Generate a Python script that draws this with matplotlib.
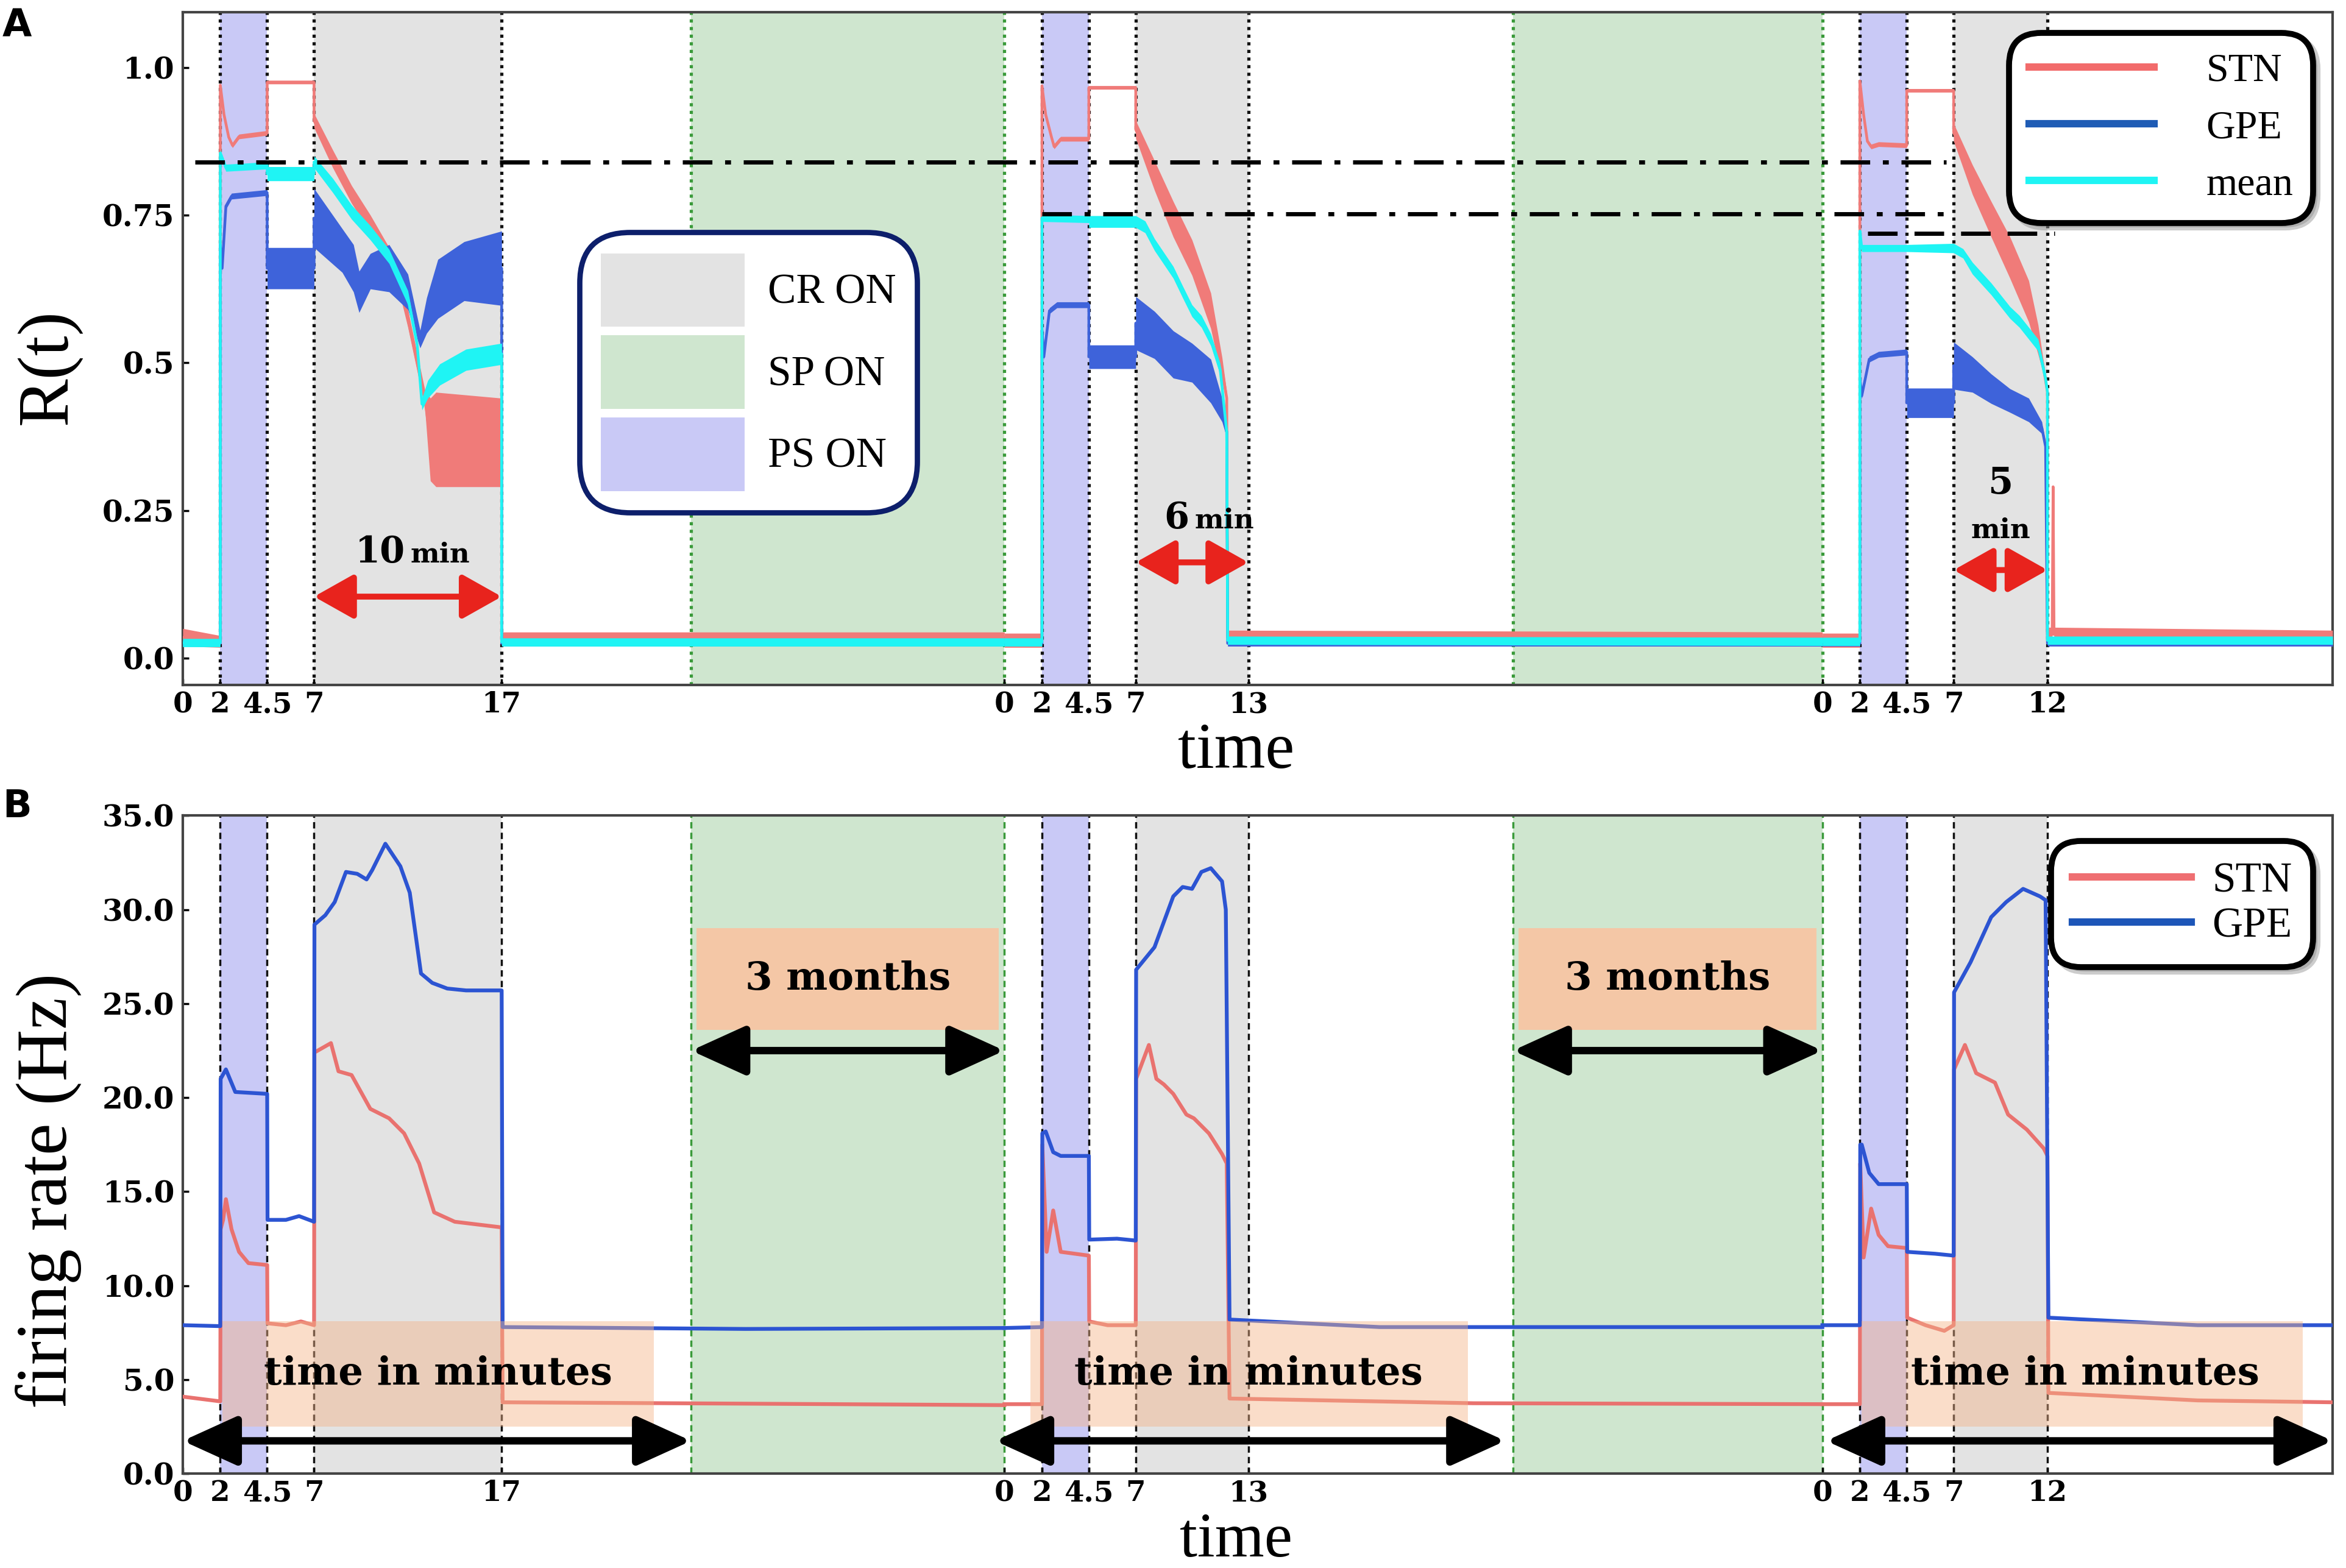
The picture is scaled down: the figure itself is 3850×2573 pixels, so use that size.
import numpy as np
import matplotlib.pyplot as plt
from matplotlib.lines import Line2D
from matplotlib.patches import Patch, Rectangle

plt.rcParams['font.family'] = ['Liberation Serif', 'DejaVu Serif']

# layout of the three sessions on one shared time axis (minutes)
seg_start = [0.0, 43.8, 87.4]
x_end = 114.6
ps_on, ps_off, cr_on = 2, 4.5, 7
cr_end = [17, 13, 12]
sp_spans = [(27.1, 43.8), (70.9, 87.4)]
tick_marks = [[0, 2, 4.5, 7, 17], [0, 2, 4.5, 7, 13], [0, 2, 4.5, 7, 12]]

# panel A: (local time, R, half width of the noisy band)
a_stn_1 = [(0, 0.035, 0.015), (2, 0.028, 0.01), (2, 0.97, 0.004), (2.2, 0.92, 0.004),
           (2.45, 0.882, 0.004), (2.65, 0.868, 0.004), (3.0, 0.883, 0.004), (4.5, 0.889, 0.004),
           (4.5, 0.975, 0.003), (7, 0.975, 0.003), (7, 0.91, 0.012), (8, 0.845, 0.015),
           (9, 0.785, 0.015), (10, 0.735, 0.015), (11, 0.68, 0.015), (11.5, 0.64, 0.015),
           (12, 0.575, 0.015), (12.5, 0.50, 0.015), (12.9, 0.44, 0.015), (13.2, 0.37, 0.07),
           (13.5, 0.37, 0.08), (17, 0.365, 0.075), (17, 0.032, 0.012), (43.8, 0.032, 0.012)]
a_gpe_1 = [(0, 0.025, 0.005), (2, 0.025, 0.005), (2, 0.70, 0.005), (2.1, 0.66, 0.005),
           (2.3, 0.765, 0.005), (2.6, 0.782, 0.005), (4.5, 0.788, 0.005), (4.5, 0.66, 0.035),
           (7, 0.66, 0.035), (7, 0.745, 0.05), (8.5, 0.69, 0.037), (9.1, 0.66, 0.04),
           (9.4, 0.62, 0.035), (10, 0.655, 0.03), (11, 0.66, 0.04), (12, 0.62, 0.03),
           (12.65, 0.54, 0.015), (13, 0.58, 0.03), (13.6, 0.625, 0.05), (15, 0.655, 0.05),
           (17, 0.66, 0.063), (17, 0.025, 0.005), (43.8, 0.025, 0.005)]
a_mean_1 = [(0, 0.026, 0.007), (2, 0.026, 0.007), (2, 0.855, 0.006), (2.3, 0.83, 0.006),
            (4.5, 0.834, 0.006), (4.5, 0.82, 0.012), (7, 0.82, 0.012), (7, 0.84, 0.01),
            (8, 0.80, 0.012), (9, 0.755, 0.012), (10, 0.72, 0.012), (11, 0.68, 0.012),
            (12, 0.61, 0.012), (12.5, 0.53, 0.01), (12.75, 0.43, 0.01), (13.06, 0.455, 0.015),
            (13.7, 0.48, 0.018), (15.1, 0.505, 0.018), (17, 0.515, 0.018), (17, 0.027, 0.007),
            (43.8, 0.027, 0.007)]

a_stn_2 = [(0, 0.03, 0.012), (2, 0.03, 0.012), (2, 0.969, 0.004), (2.2, 0.92, 0.004),
           (2.5, 0.883, 0.004), (2.65, 0.866, 0.004), (3.0, 0.879, 0.004), (4.5, 0.879, 0.004),
           (4.5, 0.966, 0.003), (7, 0.966, 0.003), (7, 0.895, 0.015), (8, 0.817, 0.025),
           (9, 0.743, 0.03), (10, 0.678, 0.03), (11, 0.588, 0.03), (11.6, 0.489, 0.02),
           (11.85, 0.44, 0.01), (11.9, 0.035, 0.012), (43.6, 0.032, 0.012)]
a_gpe_2 = [(0, 0.025, 0.005), (2, 0.025, 0.005), (2, 0.555, 0.005), (2.1, 0.51, 0.005),
           (2.4, 0.588, 0.005), (2.8, 0.598, 0.005), (4.5, 0.598, 0.005), (4.5, 0.51, 0.02),
           (7, 0.51, 0.02), (7, 0.567, 0.045), (8, 0.547, 0.04), (9, 0.514, 0.04),
           (10, 0.50, 0.033), (11, 0.469, 0.037), (11.6, 0.42, 0.02), (11.85, 0.383, 0.01),
           (11.9, 0.025, 0.005), (43.6, 0.025, 0.005)]
a_mean_2 = [(0, 0.027, 0.007), (2, 0.027, 0.007), (2, 0.745, 0.006), (4.5, 0.743, 0.006),
            (4.5, 0.739, 0.01), (7, 0.739, 0.01), (7.5, 0.73, 0.01), (8, 0.70, 0.01),
            (9, 0.653, 0.01), (9.5, 0.62, 0.01), (10, 0.588, 0.01), (10.5, 0.57, 0.01),
            (11, 0.539, 0.01), (11.5, 0.489, 0.01), (11.85, 0.383, 0.008), (11.9, 0.03, 0.007),
            (43.6, 0.028, 0.007)]

a_stn_3 = [(0, 0.03, 0.012), (2, 0.03, 0.012), (2, 0.977, 0.004), (2.2, 0.92, 0.004),
           (2.4, 0.875, 0.004), (2.6, 0.866, 0.004), (3.0, 0.87, 0.004), (4.5, 0.868, 0.004),
           (4.5, 0.961, 0.003), (7, 0.961, 0.003), (7, 0.89, 0.015), (8, 0.81, 0.025),
           (9, 0.743, 0.03), (10, 0.678, 0.035), (11, 0.604, 0.035), (11.5, 0.539, 0.025),
           (11.8, 0.489, 0.01), (12, 0.45, 0.008), (12, 0.04, 0.012), (12.25, 0.04, 0.012),
           (12.3, 0.29, 0.003), (12.35, 0.04, 0.012), (27.2, 0.035, 0.012)]
a_gpe_3 = [(0, 0.025, 0.005), (2, 0.025, 0.005), (2, 0.473, 0.005), (2.1, 0.444, 0.005),
           (2.5, 0.506, 0.005), (3.0, 0.514, 0.005), (4.5, 0.518, 0.005), (4.5, 0.432, 0.025),
           (7, 0.432, 0.025), (7, 0.495, 0.04), (8, 0.48, 0.03), (9, 0.456, 0.025),
           (10, 0.436, 0.02), (11, 0.42, 0.02), (11.7, 0.39, 0.01), (11.9, 0.358, 0.006),
           (12, 0.025, 0.005), (27.2, 0.025, 0.005)]
a_mean_3 = [(0, 0.028, 0.007), (2, 0.028, 0.007), (2, 0.723, 0.006), (2.1, 0.694, 0.006),
            (4.5, 0.694, 0.006), (7, 0.694, 0.008), (7.5, 0.685, 0.008), (8, 0.66, 0.01),
            (9, 0.625, 0.01), (10, 0.585, 0.01), (10.5, 0.57, 0.01), (11, 0.55, 0.01),
            (11.5, 0.53, 0.01), (11.9, 0.473, 0.01), (12, 0.45, 0.008), (12, 0.03, 0.007),
            (27.2, 0.03, 0.007)]

# reference levels in panel A: (R, from, to)
ref_levels = [(0.84, 0.64, 94.0), (0.752, 45.8, 94.3)]
ref_level_last = (0.719, 89.8, 99.8)
cr_arrow_y = [0.104, 0.162, 0.149]
cr_minutes = ['10', '6', '5']

# panel B: (local time, firing rate in Hz)
b_gpe_1 = [(0, 7.9), (2, 7.85), (2.02, 21.0), (2.3, 21.5), (2.8, 20.3), (4.5, 20.2),
           (4.52, 13.5), (5.5, 13.5), (6.2, 13.7), (7, 13.4), (7.02, 29.2), (7.6, 29.7),
           (8.1, 30.4), (8.7, 32.0), (9.3, 31.9), (9.8, 31.6), (10.1, 32.1), (10.8, 33.5),
           (11.6, 32.3), (12.1, 30.9), (12.7, 26.6), (13.3, 26.1), (14.1, 25.8), (15.1, 25.7),
           (17, 25.7), (17.05, 7.8), (30, 7.7), (43.8, 7.75)]
b_stn_1 = [(0, 4.1), (2, 3.85), (2.02, 13.0), (2.15, 13.5), (2.3, 14.6), (2.6, 13.0),
           (3.0, 11.8), (3.5, 11.2), (4.5, 11.1), (4.52, 8.0), (5.5, 7.9), (6.3, 8.1),
           (7, 7.9), (7.02, 22.4), (7.9, 22.9), (8.3, 21.4), (9.0, 21.2), (10.0, 19.4),
           (11.0, 18.9), (11.8, 18.1), (12.6, 16.5), (13.4, 13.9), (14.5, 13.4), (17, 13.1),
           (17.05, 3.8), (43.8, 3.65)]
b_gpe_2 = [(0, 7.75), (2, 7.8), (2.02, 18.1), (2.2, 18.2), (2.6, 17.1), (3.0, 16.9),
           (4.5, 16.9), (4.52, 12.45), (6, 12.5), (7, 12.4), (7.02, 26.8), (8.0, 28.0),
           (9.0, 30.7), (9.5, 31.2), (10.0, 31.1), (10.5, 32.0), (11.0, 32.2), (11.6, 31.5),
           (11.8, 30.0), (12.0, 8.2), (20, 7.8), (43.6, 7.8)]
b_stn_2 = [(0, 3.7), (2, 3.7), (2.02, 17.5), (2.25, 11.8), (2.6, 14.0), (3.0, 11.8),
           (4.5, 11.6), (4.52, 8.1), (5.5, 7.9), (7, 7.9), (7.02, 21.0), (7.7, 22.8),
           (8.1, 21.0), (8.5, 20.7), (9.0, 20.2), (9.7, 19.1), (10.1, 18.9), (10.9, 18.1),
           (11.6, 17.0), (11.85, 16.5), (12.0, 4.0), (25, 3.75), (43.6, 3.7)]
b_gpe_3 = [(0, 7.9), (2, 7.9), (2.02, 17.5), (2.1, 17.5), (2.5, 16.0), (3.0, 15.4),
           (4.5, 15.4), (4.52, 11.8), (6, 11.7), (7, 11.6), (7.02, 25.6), (7.9, 27.2),
           (9.0, 29.6), (9.8, 30.4), (10.7, 31.1), (11.6, 30.7), (11.9, 30.5), (12.05, 8.3),
           (20, 7.9), (27.2, 7.9)]
b_stn_3 = [(0, 3.7), (2, 3.7), (2.02, 16.5), (2.2, 11.5), (2.6, 14.1), (3.0, 12.7),
           (3.5, 12.1), (4.5, 12.0), (4.52, 8.3), (5.5, 7.9), (6.5, 7.6), (7, 7.9),
           (7.02, 21.5), (7.6, 22.8), (8.2, 21.3), (9.2, 20.8), (9.9, 19.1), (10.9, 18.3),
           (11.8, 17.3), (12.0, 16.9), (12.05, 4.3), (20, 3.9), (27.2, 3.8)]

# panel B annotation extents
minutes_box_x = [(2.1, 25.1), (45.2, 68.5), (89.5, 113.0)]
minutes_box_y = (2.5, 8.1)
minutes_text_x = [13.6, 56.8, 101.4]
minutes_arrow_x = [(0.0, 27.1), (43.3, 70.5), (87.6, 114.6)]
minutes_arrow_y = 1.75
months_box_y = (23.6, 29.0)
months_arrow_y = 22.5

c_ps, c_cr, c_sp = '#c9c9f6', '#e3e3e3', '#cfe6cf'
c_stn_a, c_gpe_a, c_mean = '#f07b79', '#3e63da', '#1ff4f4'
c_stn_b, c_gpe_b = '#e9726f', '#2c54d2'
c_peach = '#f4b489'

fig = plt.figure(figsize=(15.4, 10.292), dpi=250)
ax_a = fig.add_axes([0.0779, 0.5630, 0.9164, 0.4294])
ax_b = fig.add_axes([0.0779, 0.0601, 0.9164, 0.4198])

tick_font = dict(family='DejaVu Serif', weight='bold', size=14)
xtick_font = dict(family='DejaVu Serif', weight='bold', size=13.5)
bold_font = dict(family='DejaVu Serif', weight='bold')


def draw_background(ax, dash_black, dash_green, lw):
    for off, end in zip(seg_start, cr_end):
        ax.axvspan(off + ps_on, off + ps_off, color=c_ps, lw=0, zorder=0)
        ax.axvspan(off + cr_on, off + end, color=c_cr, lw=0, zorder=0)
        for x in (ps_on, ps_off, cr_on, end):
            ax.axvline(off + x, color='#111111', lw=lw, ls=dash_black, zorder=1)
    for x0, x1 in sp_spans:
        ax.axvspan(x0, x1, color=c_sp, lw=0, zorder=0)
        for x in (x0, x1):
            ax.axvline(x, color='#3a9a3a', lw=lw, ls=dash_green, zorder=1)
    pos, lab = [], []
    for off, marks in zip(seg_start, tick_marks):
        for m in marks:
            pos.append(off + m)
            lab.append(f'{m:g}')
    ax.set_xticks(pos)
    ax.set_xticklabels(lab, **xtick_font)
    ax.set_xlim(0, x_end)
    for s in ax.spines.values():
        s.set_color('#444444')
        s.set_linewidth(1.2)
    ax.tick_params(length=3, width=1, direction='in', pad=4)
    ax.tick_params(axis='x', pad=2.5)


# ---------- panel A ----------
draw_background(ax_a, (0, (1, 1.4)), (0, (1, 1.4)), 1.5)
for segs, color in [((a_stn_1, a_stn_2, a_stn_3), c_stn_a),
                    ((a_gpe_1, a_gpe_2, a_gpe_3), c_gpe_a),
                    ((a_mean_1, a_mean_2, a_mean_3), c_mean)]:
    for off, seg in zip(seg_start, segs):
        arr = np.array(seg)
        t = arr[:, 0] + off
        ax_a.fill_between(t, arr[:, 1] - arr[:, 2], arr[:, 1] + arr[:, 2],
                          color=color, lw=0, zorder=3)
        ax_a.plot(t, arr[:, 1], color=color, lw=1.3, zorder=3)

for y, x0, x1 in ref_levels:
    ax_a.plot([x0, x1], [y, y], color='black', lw=2, dashes=(7, 3, 1.4, 3), zorder=4)
ax_a.plot([ref_level_last[1], ref_level_last[2]], [ref_level_last[0]] * 2,
          color='black', lw=2, dashes=(7, 4), zorder=4)

for off, end, y, mins in zip(seg_start, cr_end, cr_arrow_y, cr_minutes):
    ax_a.annotate('', xy=(off + end, y), xytext=(off + cr_on, y),
                  arrowprops=dict(arrowstyle='<|-|>,head_length=0.8,head_width=0.45',
                                  color='#e8231d', lw=2.8, shrinkA=0, shrinkB=0,
                                  mutation_scale=20), zorder=5)
    mid = off + (cr_on + end) / 2
    if mins == '5':
        ax_a.text(mid, 0.278, mins, ha='center', va='baseline', size=17, zorder=5, **bold_font)
        ax_a.text(mid, 0.203, 'min', ha='center', va='baseline', size=13, zorder=5, **bold_font)
    else:
        ax_a.text(mid - 0.15, y + 0.058, mins, ha='right', va='baseline', size=17, zorder=5,
                  **bold_font)
        ax_a.text(mid + 0.15, y + 0.058, 'min', ha='left', va='baseline', size=13, zorder=5,
                  **bold_font)

ax_a.set_ylim(-0.046, 1.094)
ax_a.set_yticks([0, 0.25, 0.5, 0.75, 1.0])
ax_a.set_yticklabels(['0.0', '0.25', '0.5', '0.75', '1.0'], **tick_font)
ax_a.set_ylabel('R(t)', size=34)
ax_a.yaxis.set_label_coords(-0.047, 0.473)
ax_a.set_xlabel('time', size=31, labelpad=0)
ax_a.xaxis.set_label_coords(0.49, -0.055)

leg_spans = ax_a.legend(handles=[Patch(fc=c_cr, ec='none'), Patch(fc=c_sp, ec='none'),
                                 Patch(fc=c_ps, ec='none')],
                        labels=['CR ON', 'SP ON', 'PS ON'], loc='upper left',
                        bbox_to_anchor=(0.1845, 0.673), borderaxespad=0, fontsize=20,
                        handlelength=3.4, handleheight=2.3, handletextpad=0.55,
                        labelspacing=0.2, borderpad=0.5, framealpha=1)
leg_spans.get_frame().set_edgecolor('#0d1f6b')
leg_spans.get_frame().set_linewidth(2.5)
leg_spans.get_frame().set_boxstyle('round', pad=0, rounding_size=1.2)
leg_spans.set_zorder(6)
ax_a.add_artist(leg_spans)

leg_a = ax_a.legend(handles=[Line2D([], [], color='#f26b6b', lw=3.5),
                             Line2D([], [], color='#1f5cb5', lw=3.5),
                             Line2D([], [], color=c_mean, lw=3.5)],
                    labels=['STN', 'GPE', 'mean'], loc='upper right',
                    bbox_to_anchor=(0.991, 0.969), borderaxespad=0, fontsize=19,
                    handlelength=3.1, handletextpad=1.3, labelspacing=0.5, borderpad=0.5,
                    framealpha=1, shadow={'color': '0.5', 'alpha': 0.4})
leg_a.get_frame().set_edgecolor('black')
leg_a.get_frame().set_linewidth(2.8)
leg_a.get_frame().set_boxstyle('round', pad=0, rounding_size=0.8)
leg_a.set_zorder(6)

# ---------- panel B ----------
draw_background(ax_b, (0, (3, 2)), (0, (3, 2)), 1.0)
for segs, color in [((b_stn_1, b_stn_2, b_stn_3), c_stn_b),
                    ((b_gpe_1, b_gpe_2, b_gpe_3), c_gpe_b)]:
    for off, seg in zip(seg_start, segs):
        arr = np.array(seg)
        ax_b.plot(arr[:, 0] + off, arr[:, 1], color=color, lw=1.8, zorder=3)

for (x0, x1), tx in zip(minutes_box_x, minutes_text_x):
    ax_b.add_patch(Rectangle((x0, minutes_box_y[0]), x1 - x0,
                             minutes_box_y[1] - minutes_box_y[0],
                             fc=c_peach, ec='none', alpha=0.45, zorder=4))
    ax_b.text(tx, sum(minutes_box_y) / 2, 'time in minutes', ha='center', va='center',
              size=18.5, zorder=5, **bold_font)
for x0, x1 in minutes_arrow_x:
    ax_b.annotate('', xy=(x1, minutes_arrow_y), xytext=(x0, minutes_arrow_y),
                  arrowprops=dict(arrowstyle='<|-|>,head_length=1.1,head_width=0.5',
                                  color='black', lw=3.5, shrinkA=0, shrinkB=0,
                                  mutation_scale=20), zorder=5, annotation_clip=False)
for x0, x1 in sp_spans:
    ax_b.add_patch(Rectangle((x0 + 0.3, months_box_y[0]), x1 - x0 - 0.6,
                             months_box_y[1] - months_box_y[0],
                             fc='#f7c6a4', ec='none', alpha=0.95, zorder=4))
    ax_b.text((x0 + x1) / 2, sum(months_box_y) / 2, '3 months', ha='center', va='center',
              size=18.5, zorder=5, **bold_font)
    ax_b.annotate('', xy=(x1, months_arrow_y), xytext=(x0, months_arrow_y),
                  arrowprops=dict(arrowstyle='<|-|>,head_length=1.1,head_width=0.5',
                                  color='black', lw=3.5, shrinkA=0, shrinkB=0,
                                  mutation_scale=20), zorder=5)

ax_b.set_ylim(0, 35)
ax_b.set_yticks(np.arange(0, 36, 5))
ax_b.set_yticklabels([f'{v:.1f}' for v in np.arange(0, 36, 5)], **tick_font)
ax_b.set_ylabel('firing rate (Hz)', size=34)
ax_b.yaxis.set_label_coords(-0.047, 0.43)
ax_b.set_xlabel('time', size=30, labelpad=0)
ax_b.xaxis.set_label_coords(0.49, -0.059)

leg_b = ax_b.legend(handles=[Line2D([], [], color='#ef6f72', lw=3.5),
                             Line2D([], [], color='#1d56b8', lw=3.5)],
                    labels=['STN', 'GPE'], loc='upper right', bbox_to_anchor=(0.991, 0.961),
                    borderaxespad=0, fontsize=20, handlelength=2.8, handletextpad=0.5,
                    labelspacing=0.15, borderpad=0.5, framealpha=1,
                    shadow={'color': '0.5', 'alpha': 0.4})
leg_b.get_frame().set_edgecolor('black')
leg_b.get_frame().set_linewidth(2.8)
leg_b.get_frame().set_boxstyle('round', pad=0, rounding_size=0.7)
leg_b.set_zorder(6)

fig.text(0.001, 0.995, 'A', family='DejaVu Sans', weight='bold', size=18, va='top')
fig.text(0.001, 0.497, 'B', family='DejaVu Sans', weight='bold', size=18, va='top')

fig.savefig('out.png', dpi=250)
